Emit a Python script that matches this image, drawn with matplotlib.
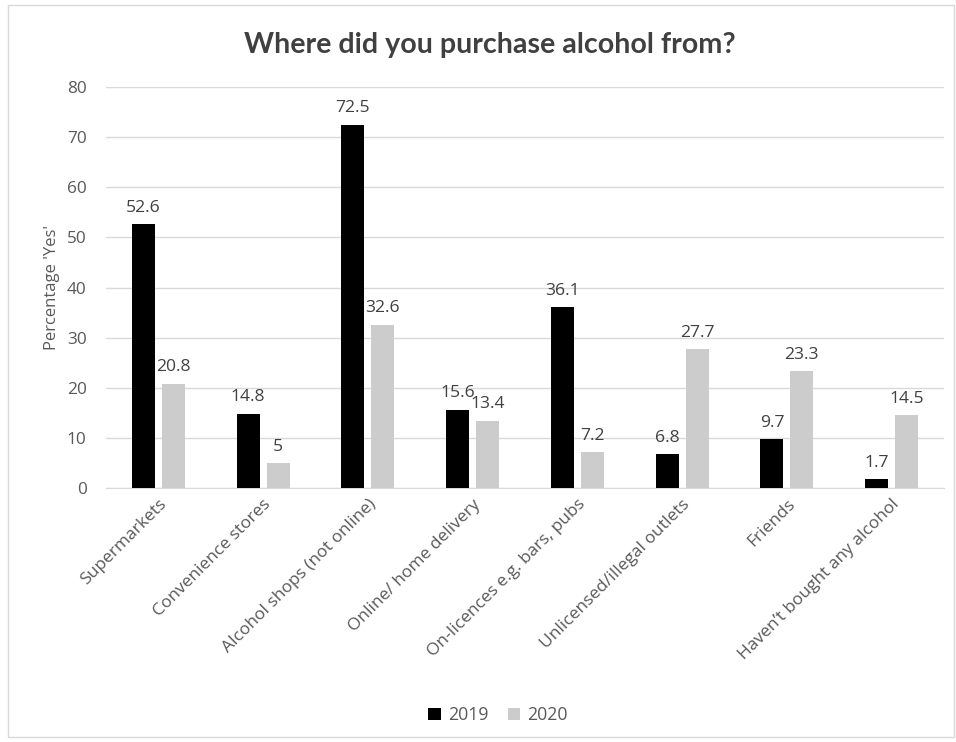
import matplotlib
matplotlib.use("Agg")
import matplotlib.pyplot as plt
import numpy as np
from matplotlib.patches import Rectangle

plt.rcParams['font.family'] = ['Open Sans', 'DejaVu Sans']

categories = ["Supermarkets", "Convenience stores", "Alcohol shops (not online)",
              "Online/ home delivery", "On-licences e.g. bars, pubs",
              "Unlicensed/illegal outlets", "Friends", "Haven\u2019t bought any alcohol"]
vals_2019 = [52.6, 14.8, 72.5, 15.6, 36.1, 6.8, 9.7, 1.7]
vals_2020 = [20.8, 5, 32.6, 13.4, 7.2, 27.7, 23.3, 14.5]
labels_2019 = ["52.6", "14.8", "72.5", "15.6", "36.1", "6.8", "9.7", "1.7"]
labels_2020 = ["20.8", "5", "32.6", "13.4", "7.2", "27.7", "23.3", "14.5"]
series_names = ["2019", "2020"]
yticks = [0, 10, 20, 30, 40, 50, 60, 70, 80]

txt = '#595959'
fig = plt.figure(figsize=(9.56, 7.42), dpi=100)
fig.patches.append(Rectangle((8/956, 1-737/742), 946/956, 732/742, transform=fig.transFigure,
                             fill=False, edgecolor='#d9d9d9', linewidth=1))
ax = fig.add_axes([106/956, 1-488/742, (944-106)/956, (488-87)/742])

x = np.arange(len(categories))
w = 0.22
off = 0.143
b1 = ax.bar(x - off, vals_2019, w, color='#000000', label=series_names[0], zorder=3)
b2 = ax.bar(x + off, vals_2020, w, color='#cccccc', label=series_names[1], zorder=3)
for bars, labs in ((b1, labels_2019), (b2, labels_2020)):
    for r, l in zip(bars, labs):
        ax.annotate(l, (r.get_x() + r.get_width()/2, r.get_height()), xytext=(0, 6),
                    textcoords='offset points', ha='center', va='bottom', fontsize=12.6, color='#404040')

ax.set_xlim(-0.5, len(categories) - 0.5)
ax.set_ylim(0, 80)
ax.set_yticks(yticks)
ax.yaxis.grid(True, color='#d9d9d9', linewidth=1, zorder=0)
ax.set_axisbelow(True)
for s in ['top', 'right', 'left']:
    ax.spines[s].set_visible(False)
ax.spines['bottom'].set_color('#d9d9d9')
ax.tick_params(axis='both', length=0, labelsize=12.4, labelcolor=txt)
ax.tick_params(axis='y', pad=14)
ax.set_xticks(x)
ax.set_xticklabels(categories, rotation=45, ha='right', rotation_mode='anchor', fontsize=12.5)
ax.tick_params(axis='x', pad=6)
ax.set_ylabel("Percentage 'Yes'", fontsize=12, color=txt, labelpad=5)

fig.text(490/956, 1-45/742, "Where did you purchase alcohol from?", ha='center', va='center',
         fontsize=20.6, fontweight='bold', color='#404040', family=['Lato', 'DejaVu Sans'])

fig.legend(handles=[b1, b2], labels=series_names, loc='center', bbox_to_anchor=(498/956, 1-715/742),
           ncol=2, frameon=False, fontsize=12.8, handlelength=0.7, handleheight=0.7,
           handletextpad=0.4, columnspacing=1.1, labelcolor=txt)

fig.savefig("out.png", dpi=100)
